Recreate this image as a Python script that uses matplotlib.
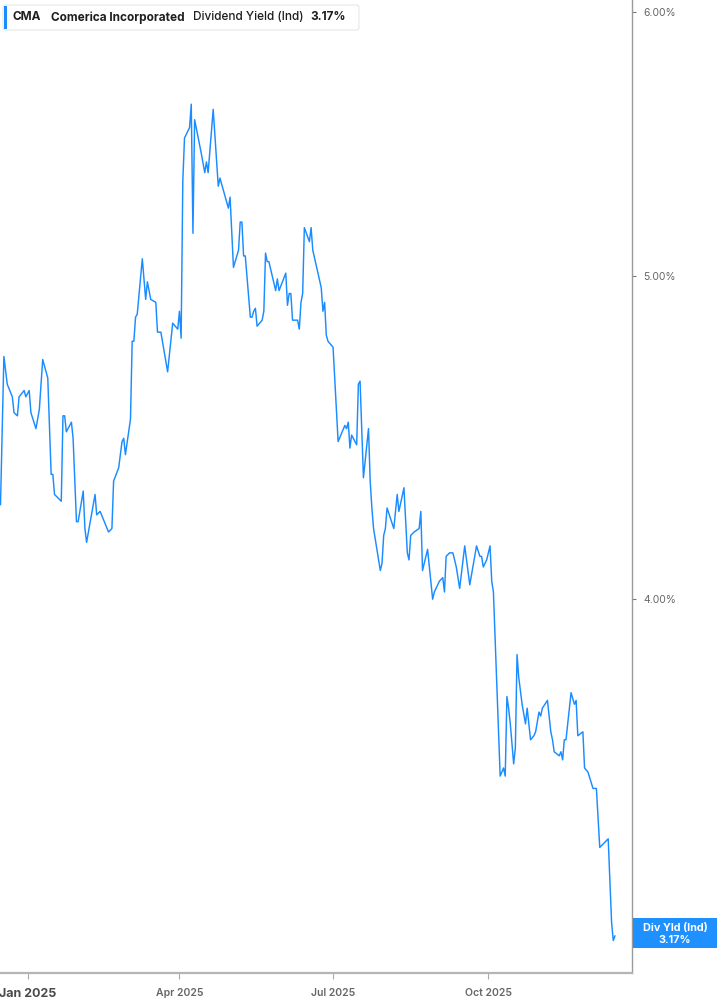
import pandas as pd
import matplotlib
matplotlib.use('Agg')
import matplotlib.pyplot as plt
import matplotlib.dates as mdates
from matplotlib.patches import Rectangle, FancyBboxPatch

plt.rcParams['font.family'] = ['Inter', 'DejaVu Sans']

# CMA dividend yield (ind), one line per month
dates = [
    '2024-12-16', '2024-12-18', '2024-12-20', '2024-12-23', '2024-12-24', '2024-12-26', '2024-12-27', '2024-12-30', '2024-12-31',
    '2025-01-02', '2025-01-03', '2025-01-06', '2025-01-08', '2025-01-10', '2025-01-13', '2025-01-15', '2025-01-16', '2025-01-17',
    '2025-01-21', '2025-01-22', '2025-01-23', '2025-01-24', '2025-01-27', '2025-01-28', '2025-01-30', '2025-01-31',
    '2025-02-03', '2025-02-04', '2025-02-05', '2025-02-10', '2025-02-11', '2025-02-13', '2025-02-18', '2025-02-20', '2025-02-21',
    '2025-02-24', '2025-02-26', '2025-02-27', '2025-02-28',
    '2025-03-03', '2025-03-04', '2025-03-05', '2025-03-06', '2025-03-07', '2025-03-10', '2025-03-12', '2025-03-13', '2025-03-15',
    '2025-03-18', '2025-03-19', '2025-03-21', '2025-03-25', '2025-03-28', '2025-03-31',
    '2025-04-01', '2025-04-02', '2025-04-03', '2025-04-04', '2025-04-07', '2025-04-08', '2025-04-09', '2025-04-10', '2025-04-14',
    '2025-04-16', '2025-04-17', '2025-04-18', '2025-04-21', '2025-04-24', '2025-04-25', '2025-04-30',
    '2025-05-01', '2025-05-03', '2025-05-06', '2025-05-07', '2025-05-08', '2025-05-09', '2025-05-10', '2025-05-13', '2025-05-14',
    '2025-05-15', '2025-05-16', '2025-05-17', '2025-05-20', '2025-05-21', '2025-05-22', '2025-05-23', '2025-05-24', '2025-05-28',
    '2025-05-29', '2025-05-30',
    '2025-06-01', '2025-06-03', '2025-06-04', '2025-06-05', '2025-06-06', '2025-06-07', '2025-06-10', '2025-06-11', '2025-06-12',
    '2025-06-13', '2025-06-14', '2025-06-17', '2025-06-18', '2025-06-19', '2025-06-24', '2025-06-25', '2025-06-26', '2025-06-27',
    '2025-06-28',
    '2025-07-01', '2025-07-04', '2025-07-08', '2025-07-09', '2025-07-10', '2025-07-11', '2025-07-12', '2025-07-15', '2025-07-16',
    '2025-07-17', '2025-07-19', '2025-07-22', '2025-07-23', '2025-07-24', '2025-07-25', '2025-07-29', '2025-07-30', '2025-07-31',
    '2025-08-01', '2025-08-02', '2025-08-06', '2025-08-08', '2025-08-09', '2025-08-12', '2025-08-14', '2025-08-15', '2025-08-16',
    '2025-08-18', '2025-08-21', '2025-08-22', '2025-08-23', '2025-08-26', '2025-08-29', '2025-08-30',
    '2025-09-02', '2025-09-04', '2025-09-05', '2025-09-06', '2025-09-08', '2025-09-10', '2025-09-12', '2025-09-14', '2025-09-17',
    '2025-09-20', '2025-09-24', '2025-09-26', '2025-09-27', '2025-09-28', '2025-09-30',
    '2025-10-02', '2025-10-03', '2025-10-04', '2025-10-08', '2025-10-09', '2025-10-10', '2025-10-11', '2025-10-12', '2025-10-13',
    '2025-10-14', '2025-10-16', '2025-10-17', '2025-10-18', '2025-10-19', '2025-10-21', '2025-10-23', '2025-10-24', '2025-10-26',
    '2025-10-28', '2025-10-29', '2025-10-31',
    '2025-11-01', '2025-11-02', '2025-11-05', '2025-11-07', '2025-11-08', '2025-11-09', '2025-11-12', '2025-11-13', '2025-11-14',
    '2025-11-15', '2025-11-16', '2025-11-19', '2025-11-21', '2025-11-22', '2025-11-23', '2025-11-26', '2025-11-27', '2025-11-29',
    '2025-12-02', '2025-12-04', '2025-12-06', '2025-12-11', '2025-12-13', '2025-12-14', '2025-12-15',
]
yields = [
    4.27, 4.73, 4.64, 4.60, 4.55, 4.54, 4.60, 4.62, 4.60,
    4.62, 4.55, 4.50, 4.56, 4.72, 4.66, 4.36, 4.36, 4.30,
    4.28, 4.54, 4.54, 4.49, 4.52, 4.47, 4.22, 4.22,
    4.31, 4.20, 4.16, 4.30, 4.24, 4.25, 4.19, 4.20, 4.34,
    4.38, 4.46, 4.47, 4.42,
    4.53, 4.78, 4.78, 4.86, 4.87, 5.06, 4.92, 4.98, 4.92,
    4.91, 4.81, 4.81, 4.68, 4.84, 4.82,
    4.88, 4.79, 5.34, 5.50, 5.54, 5.63, 5.15, 5.57, 5.44,
    5.37, 5.41, 5.37, 5.61, 5.32, 5.35, 5.24,
    5.28, 5.03, 5.09, 5.19, 5.19, 5.07, 5.07, 4.86, 4.86,
    4.88, 4.89, 4.83, 4.85, 4.88, 5.08, 5.05, 5.05, 4.95,
    4.99, 4.95,
    4.98, 5.01, 4.90, 4.94, 4.94, 4.85, 4.85, 4.82, 4.91,
    4.94, 5.17, 5.12, 5.17, 5.09, 4.96, 4.88, 4.91, 4.80,
    4.78,
    4.76, 4.46, 4.51, 4.50, 4.52, 4.44, 4.48, 4.45, 4.64,
    4.65, 4.35, 4.50, 4.34, 4.26, 4.20, 4.08, 4.10, 4.18,
    4.20, 4.26, 4.20, 4.30, 4.25, 4.32, 4.13, 4.11, 4.18,
    4.19, 4.20, 4.25, 4.08, 4.14, 4.00, 4.02,
    4.05, 4.06, 4.02, 4.12, 4.13, 4.13, 4.09, 4.03, 4.15,
    4.04, 4.15, 4.12, 4.12, 4.09, 4.11,
    4.15, 4.05, 4.02, 3.54, 3.55, 3.56, 3.54, 3.74, 3.71,
    3.67, 3.57, 3.61, 3.85, 3.79, 3.72, 3.67, 3.71, 3.63,
    3.64, 3.65, 3.70,
    3.69, 3.71, 3.73, 3.65, 3.63, 3.60, 3.59, 3.60, 3.58,
    3.63, 3.63, 3.75, 3.72, 3.73, 3.64, 3.65, 3.56, 3.55,
    3.51, 3.51, 3.37, 3.39, 3.20, 3.16, 3.17,
]

ytick_vals = [4.0, 5.0, 6.0]
ytick_labels = ['4.00%', '5.00%', '6.00%']
xtick_dates = ['2025-01-01', '2025-04-01', '2025-07-01', '2025-10-01']
xtick_labels = ['Jan 2025', 'Apr 2025', 'Jul 2025', 'Oct 2025']

df = pd.DataFrame({'date': pd.to_datetime(dates), 'yld': yields})

W, H = 717, 1005
fig = plt.figure(figsize=(W / 100, H / 100), dpi=100)
ax = fig.add_axes([0, 1 - 973 / H, 632 / W, 973 / H])

line_blue = '#1a8cff'
ax.plot(df['date'], df['yld'], color=line_blue, lw=1.05)

ax.set_yscale('log')
ax.set_ylim(3.09, 6.05)
x0 = mdates.date2num(pd.Timestamp('2025-01-01'))
ax.set_xlim(x0 - 16.3, x0 + 358.1)

for s in ['top', 'left']:
    ax.spines[s].set_visible(False)
ax.spines['bottom'].set_color('#b5b5b5')
ax.spines['bottom'].set_linewidth(1.6)
ax.spines['right'].set_color('#9a9a9a')
ax.spines['right'].set_linewidth(1.0)

ax.yaxis.tick_right()
ax.set_yticks(ytick_vals)
ax.set_yticklabels(ytick_labels)
ax.yaxis.set_minor_locator(matplotlib.ticker.NullLocator())
ax.tick_params(axis='y', length=3, width=0.8, color='#777777', labelcolor='#666666',
               labelsize=7.5, pad=5)

ax.set_xticks(pd.to_datetime(xtick_dates))
ax.set_xticklabels(xtick_labels)
ax.xaxis.set_minor_locator(matplotlib.ticker.NullLocator())
ax.tick_params(axis='x', length=4, width=0.8, color='#aaaaaa', labelcolor='#666666',
               labelsize=7.5, pad=7)
for i, lab in enumerate(ax.get_xticklabels()):
    lab.set_fontweight('semibold')
    if i == 0:
        lab.set_fontsize(9)
        lab.set_fontweight('bold')
        lab.set_color('#4a4a4a')
        lab.set_va('top')


def fx(x):
    return x / W


def fy(y):
    return 1 - y / H


# header box
box = FancyBboxPatch((fx(3), fy(30)), fx(356), 25 / H, boxstyle='round,pad=0,rounding_size=0.003',
                     transform=fig.transFigure, facecolor='white', edgecolor='#e6e6e6', lw=0.8)
fig.add_artist(box)
fig.add_artist(Rectangle((fx(4), fy(29)), fx(3), 23 / H, transform=fig.transFigure,
                         facecolor=line_blue, edgecolor='none'))
hdr = [(13, 'CMA', 'bold'), (51, 'Comerica Incorporated', 'bold'),
       (193, 'Dividend Yield (Ind)', 'medium'), (310, '3.17%', 'bold')]
for x, t, w in hdr:
    fig.text(fx(x), fy(17.5), t, fontsize=8.5, fontweight=w, color='#1e1e1e',
             ha='left', va='center')

# last value tag on the right axis
fig.add_artist(Rectangle((fx(633), fy(948)), fx(84), 30 / H, transform=fig.transFigure,
                         facecolor='#1e90ff', edgecolor='none'))
fig.text(fx(675), fy(928), 'Div Yld (Ind)', fontsize=7.8, fontweight='bold', color='white',
         ha='center', va='center')
fig.text(fx(675), fy(939.5), '3.17%', fontsize=7.8, fontweight='bold', color='white',
         ha='center', va='center')

fig.savefig('out.png', dpi=100)
